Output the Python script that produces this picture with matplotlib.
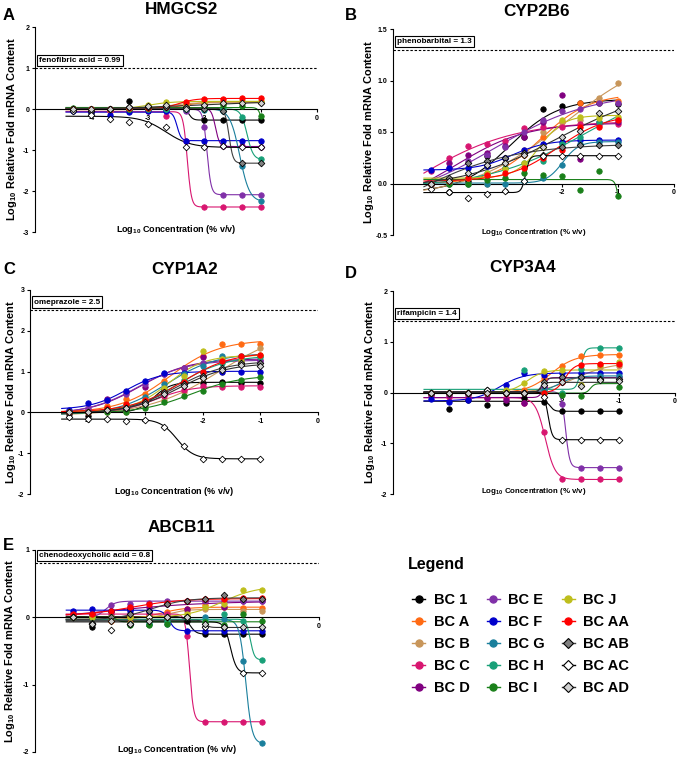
import numpy as np
import matplotlib
matplotlib.use('Agg')
import matplotlib.pyplot as plt
from matplotlib.lines import Line2D

plt.rcParams.update({
    'font.family': ['Liberation Sans', 'DejaVu Sans'],
    'font.weight': 'bold',
    'mathtext.fontset': 'custom',
    'mathtext.rm': 'Liberation Sans:bold',
    'mathtext.bf': 'Liberation Sans:bold',
    'mathtext.default': 'bf',
    'axes.linewidth': 0.8,
})

W, H = 680, 761

# log10 concentration (% v/v) of the 11 dilutions
log_conc = [-4.33, -4.0, -3.67, -3.33, -3.0, -2.67, -2.33, -2.0, -1.67, -1.33, -1.0]

series = ['BC 1', 'BC A', 'BC B', 'BC C', 'BC D', 'BC E', 'BC F', 'BC G',
          'BC H', 'BC I', 'BC J', 'BC AA', 'BC AB', 'BC AC', 'BC AD']

# log10 relative fold mRNA content, one list per series (same order as series)
hmgcs2 = [
    [0.0, -0.1, -0.03, 0.2, 0.0, 0.05, -0.03, -0.27, -0.27, -0.27, -0.27],
    [0.0, -0.02, -0.05, 0.0, 0.0, 0.02, 0.1, 0.15, 0.17, 0.18, 0.18],
    [0.0, 0.0, -0.02, 0.0, 0.02, 0.08, 0.12, 0.15, 0.15, 0.16, 0.16],
    [-0.02, -0.05, -0.05, -0.05, -0.05, -0.17, -0.77, -2.39, -2.39, -2.39, -2.39],
    [0.0, 0.0, 0.0, 0.02, 0.0, 0.0, 0.0, 0.1, -0.9, -0.9, -0.92],
    [0.0, 0.0, 0.0, 0.0, 0.0, 0.0, -0.05, -0.43, -2.09, -2.09, -2.09],
    [-0.04, -0.08, -0.15, -0.08, -0.05, -0.05, -0.77, -0.77, -0.77, -0.77, -0.77],
    [0.0, 0.0, 0.0, 0.0, 0.0, 0.0, 0.0, -0.02, -0.05, -1.38, -2.24],
    [0.0, 0.0, 0.0, 0.0, 0.0, 0.0, 0.0, 0.0, 0.0, -0.2, -1.22],
    [0.02, 0.0, 0.0, 0.0, 0.02, 0.05, 0.05, 0.05, 0.1, 0.08, -0.18],
    [0.0, 0.0, 0.0, 0.02, 0.1, 0.16, 0.15, 0.18, 0.18, 0.2, 0.2],
    [0.0, 0.0, 0.0, 0.02, 0.02, 0.05, 0.18, 0.25, 0.25, 0.26, 0.26],
    [0.0, -0.05, 0.0, 0.05, 0.05, 0.05, 0.05, 0.0, -0.05, -1.32, -1.32],
    [-0.05, -0.15, -0.24, -0.32, -0.36, -0.45, -0.93, -0.92, -0.9, -0.92, -0.92],
    [0.0, 0.0, 0.0, 0.05, 0.08, 0.1, 0.0, 0.1, 0.15, 0.15, 0.15],
]
cyp2b6 = [
    [0.0, -0.08, 0.02, 0.27, 0.25, 0.45, 0.72, 0.75, 0.78, 0.78, 0.77],
    [0.0, 0.02, 0.05, 0.08, 0.15, 0.28, 0.45, 0.6, 0.78, 0.8, 0.8],
    [0.0, 0.0, 0.0, 0.0, 0.2, 0.33, 0.5, 0.6, 0.62, 0.83, 0.98],
    [0.12, 0.25, 0.36, 0.38, 0.41, 0.54, 0.55, 0.55, 0.58, 0.57, 0.58],
    [0.0, 0.2, 0.28, 0.3, 0.36, 0.45, 0.6, 0.86, 0.24, 0.6, 0.6],
    [0.0, 0.15, 0.22, 0.28, 0.35, 0.5, 0.62, 0.7, 0.72, 0.78, 0.78],
    [0.13, 0.15, 0.15, 0.17, 0.25, 0.33, 0.38, 0.4, 0.42, 0.42, 0.42],
    [0.0, 0.0, 0.0, 0.0, 0.0, 0.02, 0.05, 0.18, 0.38, 0.4, 0.4],
    [0.0, 0.02, 0.05, 0.1, 0.15, 0.2, 0.22, 0.38, 0.45, 0.6, 0.63],
    [0.0, 0.0, 0.0, 0.03, 0.05, 0.1, 0.08, 0.07, -0.06, 0.12, -0.12],
    [0.0, 0.02, 0.05, 0.1, 0.14, 0.2, 0.35, 0.62, 0.65, 0.64, 0.65],
    [0.0, 0.02, 0.05, 0.08, 0.1, 0.15, 0.25, 0.33, 0.55, 0.55, 0.62],
    [0.0, 0.05, 0.2, 0.22, 0.25, 0.3, 0.28, 0.35, 0.37, 0.37, 0.37],
    [-0.05, -0.08, -0.14, -0.1, -0.07, 0.02, 0.27, 0.27, 0.27, 0.27, 0.27],
    [0.0, 0.02, 0.1, 0.18, 0.2, 0.28, 0.35, 0.45, 0.51, 0.68, 0.7],
]
cyp1a2 = [
    [-0.05, -0.08, 0.1, 0.05, 0.2, 0.55, 0.75, 0.72, 0.75, 0.73, 0.73],
    [0.0, 0.02, 0.15, 0.33, 0.45, 0.78, 1.1, 1.38, 1.68, 1.68, 1.68],
    [0.0, 0.0, 0.02, 0.0, 0.15, 0.3, 0.5, 0.85, 1.0, 1.3, 1.58],
    [0.0, 0.0, 0.05, 0.1, 0.2, 0.4, 0.55, 0.65, 0.63, 0.63, 0.63],
    [0.02, 0.05, 0.33, 0.5, 0.62, 0.93, 1.1, 1.35, 1.25, 1.25, 1.28],
    [0.02, 0.1, 0.3, 0.45, 0.7, 0.95, 1.1, 1.2, 1.25, 1.25, 1.27],
    [0.07, 0.23, 0.3, 0.52, 0.77, 0.97, 0.97, 0.98, 1.0, 1.0, 1.0],
    [0.0, 0.0, 0.05, 0.15, 0.38, 0.7, 0.95, 1.13, 1.38, 1.38, 1.38],
    [0.0, 0.0, 0.05, 0.1, 0.2, 0.55, 0.8, 1.0, 1.2, 1.3, 1.35],
    [0.0, 0.0, 0.0, 0.02, 0.1, 0.25, 0.4, 0.53, 0.7, 0.8, 0.87],
    [0.0, 0.0, 0.1, 0.2, 0.3, 0.6, 0.9, 1.5, 1.3, 1.25, 1.4],
    [0.0, 0.0, 0.1, 0.2, 0.3, 0.5, 0.75, 1.0, 1.25, 1.38, 1.4],
    [0.0, 0.0, 0.05, 0.1, 0.25, 0.5, 0.7, 0.9, 1.1, 1.2, 1.2],
    [-0.12, -0.17, -0.15, -0.22, -0.18, -0.35, -0.82, -1.13, -1.13, -1.13, -1.13],
    [0.0, 0.0, 0.05, 0.1, 0.2, 0.45, 0.65, 0.85, 1.05, 1.15, 1.13],
]
cyp3a4 = [
    [0.0, -0.33, -0.15, -0.25, -0.2, -0.1, -0.18, -0.37, -0.37, -0.37, -0.37],
    [0.0, 0.0, 0.0, 0.0, 0.0, 0.05, 0.28, 0.52, 0.72, 0.73, 0.73],
    [0.0, 0.0, 0.0, 0.0, 0.0, 0.0, 0.05, 0.2, 0.3, 0.5, 0.52],
    [-0.05, -0.08, -0.1, -0.1, -0.1, -0.2, -0.78, -1.7, -1.7, -1.7, -1.7],
    [-0.05, -0.05, -0.05, -0.1, -0.15, -0.2, 0.1, 0.28, 0.3, 0.3, 0.3],
    [0.0, 0.0, 0.0, 0.0, 0.0, 0.0, 0.1, -0.22, -1.48, -1.48, -1.48],
    [-0.13, -0.18, -0.15, 0.0, 0.15, 0.38, 0.35, 0.38, 0.38, 0.38, 0.38],
    [0.0, 0.0, 0.0, 0.0, 0.0, 0.0, 0.05, 0.2, 0.3, 0.33, 0.33],
    [0.0, 0.0, 0.0, 0.02, 0.02, 0.45, 0.0, 0.0, 0.47, 0.88, 0.88],
    [0.0, 0.0, 0.0, 0.0, 0.0, 0.0, 0.0, -0.05, -0.07, 0.25, 0.1],
    [0.0, 0.0, 0.0, 0.0, 0.05, 0.18, 0.42, 0.45, 0.15, 0.55, 0.6],
    [0.0, 0.0, 0.0, 0.0, 0.0, 0.0, 0.0, 0.2, 0.55, 0.57, 0.57],
    [0.0, 0.0, 0.0, 0.05, 0.0, 0.0, 0.2, 0.3, 0.3, 0.27, 0.27],
    [0.0, 0.0, 0.0, 0.05, 0.0, 0.0, -0.08, -0.93, -0.93, -0.93, -0.93],
    [0.0, 0.0, 0.0, 0.0, 0.0, 0.0, 0.15, 0.2, 0.12, 0.25, 0.23],
]
abcb11 = [
    [0.0, -0.15, 0.1, 0.12, 0.0, 0.0, -0.05, -0.25, -0.25, -0.25, -0.25],
    [0.0, 0.0, -0.05, -0.08, 0.05, 0.08, 0.12, 0.18, 0.15, 0.14, 0.14],
    [0.0, 0.0, 0.0, 0.0, 0.0, 0.05, 0.1, 0.12, 0.15, 0.1, 0.1],
    [0.05, 0.05, 0.05, 0.05, 0.05, 0.05, -0.28, -1.55, -1.55, -1.55, -1.55],
    [0.05, 0.05, 0.1, 0.15, 0.15, 0.2, 0.12, 0.25, 0.15, 0.25, 0.25],
    [0.0, 0.0, 0.18, 0.2, 0.22, 0.25, 0.25, 0.25, 0.25, 0.25, 0.25],
    [0.1, 0.13, 0.1, 0.1, 0.1, 0.0, -0.2, -0.2, -0.2, -0.2, -0.2],
    [0.0, 0.0, 0.0, -0.1, -0.1, -0.1, 0.0, 0.0, -0.02, -0.65, -1.86],
    [0.0, 0.0, 0.0, -0.1, -0.1, -0.05, 0.0, -0.05, 0.05, -0.05, -0.63],
    [0.0, 0.0, 0.0, -0.12, -0.12, -0.1, 0.0, -0.07, -0.12, 0.05, -0.05],
    [0.0, 0.0, 0.0, 0.0, 0.0, 0.0, 0.05, 0.15, 0.2, 0.4, 0.4],
    [0.05, 0.05, 0.1, 0.15, 0.2, 0.22, 0.25, 0.27, 0.27, 0.28, 0.28],
    [0.0, -0.08, 0.0, 0.05, 0.1, 0.2, 0.25, 0.27, 0.33, 0.27, 0.27],
    [0.0, -0.1, -0.19, -0.1, 0.0, 0.0, 0.0, -0.15, -0.15, -0.82, -0.82],
    [0.0, -0.1, -0.05, -0.1, -0.05, 0.0, 0.0, -0.1, -0.15, -0.15, -0.15],
]

# positive controls
controls = ['fenofibric acid = 0.99', 'phenobarbital = 1.3', 'omeprazole = 2.5',
            'rifampicin = 1.4', 'chenodeoxycholic acid = 0.8']
control_values = [0.99, 1.3, 2.5, 1.4, 0.8]
genes = ['HMGCS2', 'CYP2B6', 'CYP1A2', 'CYP3A4', 'ABCB11']

# (line colour, marker, face colour)
style = {
    'BC 1': ('#000000', 'o', '#000000'),
    'BC A': ('#FF6A13', 'o', '#FF6A13'),
    'BC B': ('#C8965A', 'o', '#C8965A'),
    'BC C': ('#D81670', 'o', '#D81670'),
    'BC D': ('#800080', 'o', '#800080'),
    'BC E': ('#8030A8', 'o', '#8030A8'),
    'BC F': ('#0000CC', 'o', '#0000CC'),
    'BC G': ('#1A7F9C', 'o', '#1A7F9C'),
    'BC H': ('#18A078', 'o', '#18A078'),
    'BC I': ('#1A801A', 'o', '#1A801A'),
    'BC J': ('#BEBE1C', 'o', '#BEBE1C'),
    'BC AA': ('#FF0000', 'o', '#FF0000'),
    'BC AB': ('#404040', 'D', '#808080'),
    'BC AC': ('#000000', 'D', '#FFFFFF'),
    'BC AD': ('#303030', 'D', '#D0D0D0'),
}


def fit_4pl(x, y):
    # least squares four-parameter logistic: grid over logEC50 and hill,
    # bottom/top solved linearly
    x = np.asarray(x, float)
    y = np.asarray(y, float)
    ec, hl = np.meshgrid(np.linspace(-4.6, -0.8, 381),
                         np.array([0.5, 0.7, 1, 1.4, 2, 3, 5, 8, 12]), indexing='ij')
    ec, hl = ec.ravel(), hl.ravel()
    s = 1 / (1 + 10 ** ((ec[:, None] - x[None, :]) * hl[:, None]))
    sm = s.mean(1)
    ds = s - sm[:, None]
    var = (ds ** 2).sum(1)
    b = np.where(var > 1e-12, (ds * (y - y.mean())).sum(1) / np.maximum(var, 1e-12), 0.0)
    a = y.mean() - b * sm
    sse = ((a[:, None] + b[:, None] * s - y) ** 2).sum(1)
    ok = np.where(sse <= sse.min() * 1.0001 + 1e-6)[0]
    i = ok[len(ok) // 2]
    return a[i], b[i], ec[i], hl[i]


def frac(l, t, r, b):
    return [l / W, 1 - b / H, (r - l) / W, (b - t) / H]


fig = plt.figure(figsize=(W / 100, H / 100), dpi=100)

panels = [
    # letter, data, ylim, yticks, axes box px (l, t, r, b), letter px, title px, ylabel x, xlabel size
    ('A', hmgcs2, (-3, 2), [-3, -2, -1, 0, 1, 2], (35, 27, 317, 232), (3, 15), (182, 10), -0.055, 6.5),
    ('B', cyp2b6, (-0.5, 1.5), [-0.5, 0.0, 0.5, 1.0, 1.5], (393, 29, 674, 235), (345, 15), (536, 12), -0.059, 5.7),
    ('C', cyp1a2, (-2, 3), [-2, -1, 0, 1, 2, 3], (30, 290, 318, 494), (3, 270), (185, 270), -0.043, 6.5),
    ('D', cyp3a4, (-2, 2), [-2, -1, 0, 1, 2], (393, 291, 675, 494), (345, 274), (523, 268), -0.055, 5.7),
    ('E', abcb11, (-2, 1), [-2, -1, 0, 1], (35, 550, 319, 752), (3, 545), (181, 528), -0.062, 6.5),
]

xs = np.linspace(-4.45, -1.0, 300)
for k, (letter, data, ylim, yticks, box, lpos, tpos, ylx, xls) in enumerate(panels):
    ax = fig.add_axes(frac(*box))
    for name, vals in zip(series, data):
        lc, mk, fc = style[name]
        a, b, ec, hl = fit_4pl(log_conc, vals)
        ax.plot(xs, a + b / (1 + 10 ** ((ec - xs) * hl)), color=lc, lw=0.8, zorder=2)
        ax.plot(log_conc, vals, ls='none', marker=mk, ms=3.9 if mk == 'o' else 3.4,
                mfc=fc, mec=lc if mk == 'o' else '#000000', mew=0.6, zorder=3)
    ax.axhline(control_values[k], color='k', ls=(0, (2.2, 1.6)), lw=0.8, zorder=1)
    ax.annotate(controls[k], xy=(0, control_values[k]), xycoords=('axes fraction', 'data'),
                xytext=(3, 3.5), textcoords='offset points', fontsize=5.9, fontweight='bold',
                va='bottom', ha='left',
                bbox=dict(boxstyle='square,pad=0.25', fc='white', ec='k', lw=0.8))
    ax.set_xlim(-5, 0)
    ax.set_ylim(*ylim)
    ax.set_xticks([-4, -3, -2, -1, 0])
    ax.set_xticklabels(['-4', '-3', '-2', '-1', '0'])
    ax.set_yticks(yticks)
    if letter == 'B':
        ax.set_yticklabels([f'{v:.1f}' for v in yticks])
    else:
        ax.set_yticklabels([f'{v:d}' for v in yticks])
    ax.spines['top'].set_visible(False)
    ax.spines['right'].set_visible(False)
    ax.spines['bottom'].set_position(('data', 0))
    ax.tick_params(axis='both', direction='out', length=2.5, width=0.8,
                   labelsize=5, pad=1.5)
    ax.patch.set_alpha(0)
    ax.set_ylabel('Log$_{10}$ Relative Fold mRNA Content', fontsize=7.9, fontweight='bold')
    ax.yaxis.set_label_coords(ylx, 0.5)
    ax.text(0.5, 0.012, 'Log$_{10}$ Concentration (% v/v)', transform=ax.transAxes,
            ha='center', va='center', fontsize=xls, fontweight='bold')
    fig.text(lpos[0] / W, 1 - lpos[1] / H, letter, fontsize=12, fontweight='bold',
             ha='left', va='center')
    fig.text(tpos[0] / W, 1 - tpos[1] / H, genes[k], fontsize=12.3, fontweight='bold',
             ha='center', va='center')

# legend panel
fig.text(408 / W, 1 - 565 / H, 'Legend', fontsize=11.5, fontweight='bold', va='center')
handles = []
for name in series:
    lc, mk, fc = style[name]
    handles.append(Line2D([], [], color=lc, lw=1.0, marker=mk, ms=5.2 if mk == 'o' else 4.6,
                          mfc=fc, mec=lc if mk == 'o' else '#000000', mew=0.8))
fig.legend(handles, series, ncol=3, loc='upper left', bbox_to_anchor=(405 / W, 1 - 586 / H),
           frameon=False, prop={'size': 10.5, 'weight': 'bold'}, handlelength=0.9,
           handletextpad=0.58, columnspacing=1.15, labelspacing=0.54, borderpad=0)

fig.savefig('out.png', dpi=100)
